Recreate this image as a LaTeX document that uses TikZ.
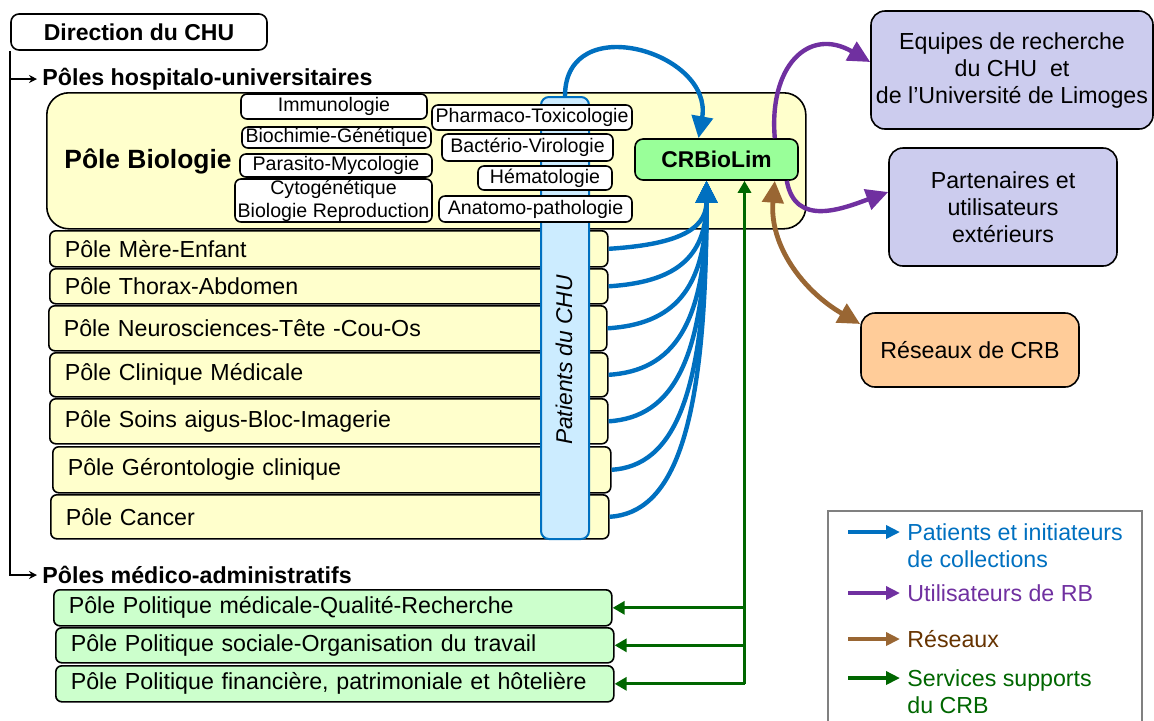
\documentclass[tikz,border=0pt]{standalone}
\usepackage{fontspec}
\setmainfont{Liberation Sans}
\usetikzlibrary{arrows.meta,calc,positioning}

\definecolor{poleyellow}{HTML}{FFFFCC}
\definecolor{patblue}{HTML}{CCECFF}
\definecolor{arrblue}{HTML}{0070C0}
\definecolor{arrpurple}{HTML}{7030A0}
\definecolor{arrbrown}{HTML}{996633}
\definecolor{txtbrown}{HTML}{663300}
\definecolor{arrgreen}{HTML}{006600}
\definecolor{crbgreen}{HTML}{99FF99}
\definecolor{admgreen}{HTML}{CCFFCC}
\definecolor{lavender}{HTML}{CCCCEE}
\definecolor{peach}{HTML}{FFCC99}

\tikzset{
  box/.style={draw, line width=0.8pt, rounded corners=3pt},
  polebox/.style={box, fill=poleyellow, anchor=north west, text width=264pt,
    inner xsep=7.5pt, inner ysep=0pt, align=left, font=\fontsize{11.6}{13}\selectfont},
  admbox/.style={polebox, fill=admgreen},
  subbox/.style={box, fill=white, inner sep=0pt, align=center, font=\fontsize{9.8}{11.5}\selectfont},
  partbox/.style={box, rounded corners=7pt, fill=lavender, inner sep=0pt, align=center,
    font=\fontsize{11.6}{13.5}\selectfont},
  headlbl/.style={anchor=west, inner xsep=2.5pt, inner ysep=1pt, font=\bfseries\fontsize{11.6}{13}\selectfont},
  bigtip/.style={-{Triangle[length=11pt,width=10.5pt]}},
  bluearr/.style={arrblue, line width=2.2pt, bigtip},
  purparr/.style={arrpurple, line width=2.2pt, bigtip},
  brownarr/.style={arrbrown, line width=2.4pt, {Triangle[length=11pt,width=10.5pt]}-{Triangle[length=11pt,width=10.5pt]}},
  greenarr/.style={arrgreen, line width=1.6pt, -{Triangle[length=6pt,width=6.5pt]}},
  legarr/.style={line width=2pt, -{Triangle[length=7pt,width=6.5pt]}},
  legtxt/.style={anchor=west, align=left, inner xsep=3.5pt, inner ysep=0pt, font=\fontsize{11.6}{13.5}\selectfont},
}

\begin{document}
\begin{tikzpicture}[x=0.5pt,y=0.5pt]
  \useasboundingbox (0,0) rectangle (1154,-720);

  % direction and the two groups
  \node[box, rounded corners=4pt, minimum width=128pt, minimum height=18pt, inner sep=0pt,
    font=\bfseries\fontsize{11.5}{13}\selectfont] (dir) at (139,-32) {Direction du CHU};
  \node[headlbl] (hosplbl) at (37,-79) {Pôles hospitalo-universitaires};
  \node[headlbl] (admlbl) at (37,-575) {Pôles médico-administratifs};
  \draw[line width=0.75pt, -{Stealth[length=4pt,width=4pt]}] (dir.south west) |- (hosplbl.west);
  \draw[line width=0.75pt, -{Stealth[length=4pt,width=4pt]}] (dir.south west) |- (admlbl.west);

  % pole biologie
  \node[box, rounded corners=11pt, fill=poleyellow, anchor=north west, minimum width=379.5pt,
    minimum height=68pt, inner sep=0pt] (bio) at (46,-92) {};
  \node[font=\bfseries\fontsize{13.2}{15}\selectfont] (biolbl) at (148,-161) {Pôle Biologie};

  % poles hospitalo-universitaires
  \node[polebox, minimum height=18pt] (mere) at (49,-230) {Pôle Mère-Enfant};
  \node[polebox, minimum height=17.5pt] (thorax) at (49,-268) {Pôle Thorax-Abdomen};
  \node[polebox, minimum height=22.5pt] (neuro) at (48,-305) {Pôle Neurosciences-Tête -Cou-Os};
  \node[polebox, minimum height=22pt] (clinique) at (49,-352) {Pôle Clinique Médicale};
  \node[polebox, minimum height=22.5pt] (soins) at (49,-398) {Pôle Soins aigus-Bloc-Imagerie};
  \node[polebox, minimum height=23pt] (geronto) at (52,-446) {Pôle Gérontologie clinique};
  \node[polebox, minimum height=22pt] (cancer) at (50,-494) {Pôle Cancer};

  % patients du CHU
  \node[box, rounded corners=4pt, draw=arrblue, line width=1pt, fill=patblue, anchor=north west,
    minimum width=24pt, minimum height=221pt, inner sep=0pt] (patients) at (540,-96) {};
  \node[rotate=90, font=\itshape\fontsize{11.4}{13}\selectfont] (patlbl) at (564,-360) {Patients du CHU};

  % laboratoires
  \node[subbox, minimum width=93pt, minimum height=12.5pt] (immuno) at (334,-106.5) {Immunologie};
  \node[subbox, minimum width=94.5pt, minimum height=10.5pt] (biochim) at (336.5,-137.5) {Biochimie-Génétique};
  \node[subbox, minimum width=96pt, minimum height=11.5pt] (parasito) at (336,-165.5) {Parasito-Mycologie};
  \node[subbox, minimum width=98.5pt, minimum height=21.5pt] (cyto) at (333.5,-200.5) {Cytogénétique\\Biologie Reproduction};
  \node[subbox, minimum width=100pt, minimum height=12.5pt] (pharma) at (532,-117.5) {Pharmaco-Toxicologie};
  \node[subbox, minimum width=85.5pt, minimum height=13.5pt] (bacterio) at (527.5,-147.5) {Bactério-Virologie};
  \node[subbox, minimum width=67pt, minimum height=12pt] (hemato) at (545,-178) {Hématologie};
  \node[subbox, minimum width=96.5pt, minimum height=13pt] (anapath) at (535.5,-209) {Anatomo-pathologie};

  \node[box, rounded corners=4pt, fill=crbgreen, minimum width=81.5pt, minimum height=20.5pt, inner sep=0pt,
    font=\bfseries\fontsize{11.4}{13}\selectfont] (crb) at (716.5,-159.5) {CRBioLim};

  % poles medico-administratifs
  \node[admbox, minimum height=18pt] (polmed) at (53,-589) {Pôle Politique médicale-Qualité-Recherche};
  \node[admbox, minimum height=17.5pt] (polsoc) at (55,-627) {Pôle Politique sociale-Organisation du travail};
  \node[admbox, minimum height=18pt] (polfin) at (55,-665) {Pôle Politique financière, patrimoniale et hôtelière};

  % partenaires
  \node[partbox, minimum width=141pt, minimum height=59pt] (equipes) at (1012,-70)
    {Equipes de recherche\\du CHU~ et\\de l’Université de Limoges};
  \node[partbox, minimum width=114pt, minimum height=59pt] (partners) at (1003,-207)
    {Partenaires et\\utilisateurs\\extérieurs};
  \node[partbox, fill=peach, minimum width=109pt, minimum height=37pt] (reseaux) at (970,-350) {Réseaux de CRB};

  % patients -> CRBioLim
  \coordinate (crbin) at ([xshift=-5pt]crb.south);
  \foreach \p in {mere,thorax,neuro,clinique,soins,geronto,cancer}
    \draw[bluearr] (\p.east) .. controls ($(\p.east)!0.65!(\p.east -| crbin)+(0,4)$)
      and ($(crbin)!0.75!(crbin |- \p.east)$) .. (crbin);
  \draw[bluearr] (patients.north) to[out=90,in=80,looseness=1.6] ([xshift=-9pt]crb.north);

  % utilisateurs, reseaux
  \draw[purparr] ([xshift=-12pt]crb.north east) to[out=95,in=150,looseness=1.5] ([yshift=4pt]equipes.west);
  \draw[purparr] ([xshift=-6pt]crb.south east) to[out=-80,in=200,looseness=1.2] ([yshift=7.5pt]partners.west);
  \draw[brownarr] ([xshift=-12pt]crb.south east) to[out=-95,in=150] ([yshift=13pt]reseaux.west);

  % services supports
  \coordinate (gin) at ([xshift=14pt]crb.south);
  \draw[greenarr] (polfin.east -| gin) -- (gin);
  \foreach \p in {polmed,polsoc,polfin}
    \draw[greenarr] (\p.east -| gin) -- (\p.east);

  % legende
  \draw[gray, line width=0.8pt] (828,-511) rectangle (1142,-730);
  \node[legtxt, text=arrblue] (leg1) at (900,-545.5) {Patients et initiateurs\\de collections};
  \node[legtxt, text=arrpurple] (leg2) at (900,-593) {Utilisateurs de RB};
  \node[legtxt, text=txtbrown] (leg3) at (900,-639) {Réseaux};
  \node[legtxt, text=arrgreen] (leg4) at (900,-691.5) {Services supports\\du CRB};
  \coordinate (l1) at (848,-532);
  \coordinate (l2) at (848,-593);
  \coordinate (l3) at (848,-639);
  \coordinate (l4) at (848,-678);
  \draw[legarr, arrblue] (l1) -- (l1 -| leg1.west);
  \draw[legarr, arrpurple] (l2) -- (leg2.west);
  \draw[legarr, arrbrown] (l3) -- (leg3.west);
  \draw[legarr, arrgreen] (l4) -- (l4 -| leg4.west);
\end{tikzpicture}
\end{document}
